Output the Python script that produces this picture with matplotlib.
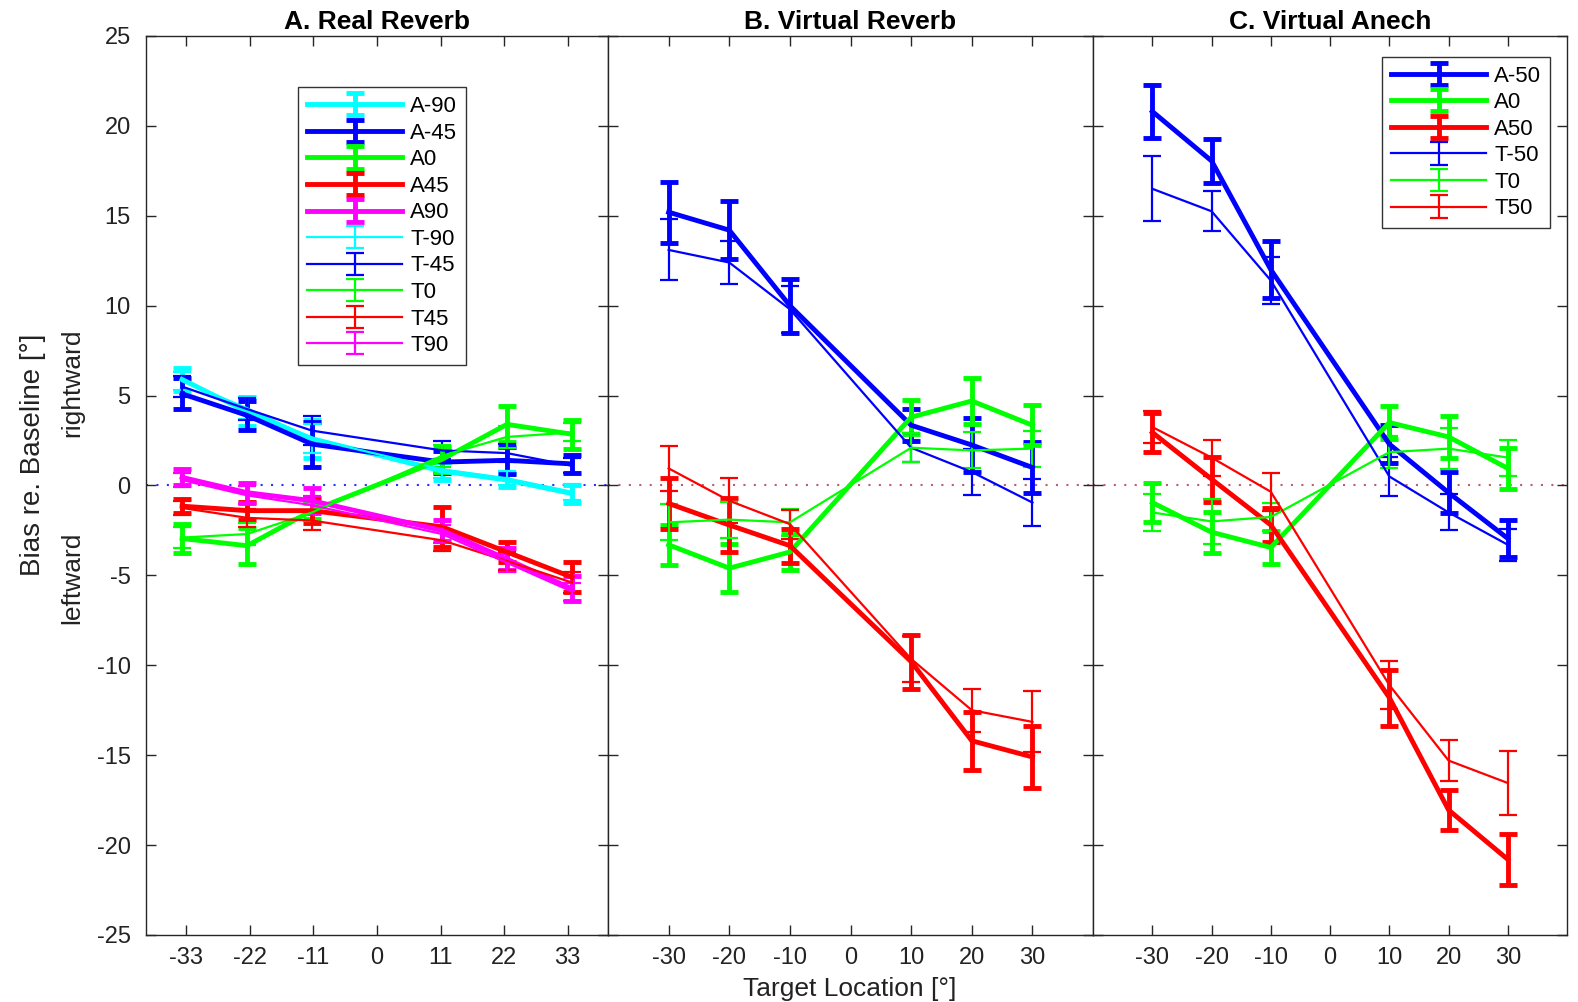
# Bias re. baseline: A. Real Reverb / B. Virtual Reverb / C. Virtual Anech
import numpy as np
import matplotlib.pyplot as plt

plt.rcParams['font.family'] = ['Liberation Sans', 'DejaVu Sans']
plt.rcParams['axes.unicode_minus'] = False

# Target locations (deg)
targets_a = [-33.75, -22.5, -11.25, 11.25, 22.5, 33.75]
xticks_a = [-33, -22, -11, 0, 11, 22, 33]
targets_bc = [-30, -20, -10, 10, 20, 30]
xticks_bc = [-30, -20, -10, 0, 10, 20, 30]
yticks = [-25, -20, -15, -10, -5, 0, 5, 10, 15, 20, 25]

# A. Real Reverb: means and error bars
ra_am90 = [5.9, 4.1, 2.6, 0.8, 0.3, -0.45]
ra_am90_err = [0.65, 0.8, 1.05, 0.5, 0.4, 0.5]
ra_am45 = [5.1, 3.9, 2.3, 1.3, 1.4, 1.2]
ra_am45_err = [0.85, 0.8, 1.25, 0.6, 0.75, 0.5]
ra_a0 = [-2.95, -3.35, -1.4, 1.45, 3.4, 2.85]
ra_a0_err = [0.8, 1.0, 0.45, 0.7, 1.0, 0.8]
ra_a45 = [-1.15, -1.4, -1.4, -2.3, -3.7, -5.1]
ra_a45_err = [0.4, 0.5, 0.7, 1.1, 0.55, 0.85]
ra_a90 = [0.45, -0.4, -0.85, -2.5, -4.1, -5.75]
ra_a90_err = [0.45, 0.55, 0.7, 0.6, 0.6, 0.7]
ra_tm90 = [5.8, 4.3, 2.6, 0.9, 0.4, -0.35]
ra_tm90_err = [0.5, 0.6, 0.8, 0.5, 0.4, 0.45]
ra_tm45 = [5.5, 4.25, 3.05, 1.95, 1.8, 1.1]
ra_tm45_err = [0.6, 0.6, 0.8, 0.5, 0.5, 0.4]
ra_t0 = [-2.9, -2.7, -1.5, 1.65, 2.7, 2.95]
ra_t0_err = [0.6, 0.6, 0.5, 0.6, 0.6, 0.5]
ra_t45 = [-1.25, -1.8, -1.95, -3.05, -4.2, -5.4]
ra_t45_err = [0.4, 0.5, 0.5, 0.6, 0.5, 0.6]
ra_t90 = [0.3, -0.55, -1.1, -2.7, -4.3, -5.9]
ra_t90_err = [0.4, 0.5, 0.5, 0.5, 0.5, 0.5]

# B. Virtual Reverb
vr_am50 = [15.2, 14.2, 10.0, 3.35, 2.25, 1.0]
vr_am50_err = [1.7, 1.6, 1.5, 0.9, 1.5, 1.4]
vr_a0 = [-3.3, -4.6, -3.7, 3.8, 4.7, 3.35]
vr_a0_err = [1.1, 1.35, 1.0, 0.95, 1.3, 1.1]
vr_a50 = [-1.0, -2.2, -3.35, -9.8, -14.2, -15.1]
vr_a50_err = [1.4, 1.5, 0.95, 1.5, 1.6, 1.7]
vr_tm50 = [13.1, 12.4, 9.8, 2.1, 0.75, -0.95]
vr_tm50_err = [1.7, 1.2, 1.3, 0.8, 1.3, 1.3]
vr_t0 = [-2.05, -1.9, -2.05, 2.1, 1.95, 2.05]
vr_t0_err = [1.0, 1.0, 0.75, 0.8, 1.0, 1.0]
vr_t50 = [0.95, -0.85, -2.15, -9.65, -12.5, -13.15]
vr_t50_err = [1.25, 1.25, 0.8, 1.3, 1.2, 1.7]

# C. Virtual Anech
va_am50 = [20.8, 18.05, 12.0, 2.3, -0.4, -2.95]
va_am50_err = [1.45, 1.2, 1.6, 1.05, 1.15, 1.05]
va_a0 = [-0.95, -2.6, -3.45, 3.5, 2.7, 0.95]
va_a0_err = [1.1, 1.15, 0.9, 0.9, 1.15, 1.15]
va_a50 = [2.95, 0.35, -2.2, -11.8, -18.05, -20.8]
va_a50_err = [1.1, 1.25, 0.95, 1.55, 1.1, 1.4]
va_tm50 = [16.5, 15.25, 11.4, 0.5, -1.5, -3.3]
va_tm50_err = [1.8, 1.1, 1.3, 1.1, 1.0, 0.9]
va_t0 = [-1.5, -2.0, -1.75, 1.85, 2.05, 1.55]
va_t0_err = [1.05, 1.25, 0.8, 0.9, 1.15, 1.0]
va_t50 = [3.25, 1.55, -0.35, -11.1, -15.3, -16.55]
va_t50_err = [0.9, 1.0, 1.05, 1.35, 1.15, 1.8]

CYAN, BLUE, GREEN, RED, MAGENTA = '#00ffff', '#0000ff', '#00ff00', '#ff0000', '#ff00ff'
AXCOL = '#262626'


def draw(ax, x, mean, err, color, thick, label):
    lw = 3.5 if thick else 1.6
    ax.errorbar(x, mean, yerr=err, color=color, lw=lw, elinewidth=lw,
                capsize=6.8, capthick=lw, label=label)


fig = plt.figure(figsize=(15.78, 10.02), dpi=100)
axA = fig.add_axes([0.0925, 0.0669, 0.2928, 0.8972])
axB = fig.add_axes([0.3853, 0.0669, 0.3074, 0.8972])
axC = fig.add_axes([0.6927, 0.0669, 0.3004, 0.8972])

# zero lines
axA.axhline(0, color='#3030ff', lw=1.5, ls=(0, (1, 4)), zorder=1)
axB.axhline(0, color='#b8606e', lw=1.5, ls=(0, (1, 4)), zorder=1)
axC.axhline(0, color='#b8606e', lw=1.5, ls=(0, (1, 4)), zorder=1)

# Panel A
draw(axA, targets_a, ra_am90, ra_am90_err, CYAN, True, 'A-90')
draw(axA, targets_a, ra_am45, ra_am45_err, BLUE, True, 'A-45')
draw(axA, targets_a, ra_a0, ra_a0_err, GREEN, True, 'A0')
draw(axA, targets_a, ra_a45, ra_a45_err, RED, True, 'A45')
draw(axA, targets_a, ra_a90, ra_a90_err, MAGENTA, True, 'A90')
draw(axA, targets_a, ra_tm90, ra_tm90_err, CYAN, False, 'T-90')
draw(axA, targets_a, ra_tm45, ra_tm45_err, BLUE, False, 'T-45')
draw(axA, targets_a, ra_t0, ra_t0_err, GREEN, False, 'T0')
draw(axA, targets_a, ra_t45, ra_t45_err, RED, False, 'T45')
draw(axA, targets_a, ra_t90, ra_t90_err, MAGENTA, False, 'T90')

# Panel B
draw(axB, targets_bc, vr_am50, vr_am50_err, BLUE, True, 'A-50')
draw(axB, targets_bc, vr_a0, vr_a0_err, GREEN, True, 'A0')
draw(axB, targets_bc, vr_a50, vr_a50_err, RED, True, 'A50')
draw(axB, targets_bc, vr_tm50, vr_tm50_err, BLUE, False, 'T-50')
draw(axB, targets_bc, vr_t0, vr_t0_err, GREEN, False, 'T0')
draw(axB, targets_bc, vr_t50, vr_t50_err, RED, False, 'T50')

# Panel C
draw(axC, targets_bc, va_am50, va_am50_err, BLUE, True, 'A-50')
draw(axC, targets_bc, va_a0, va_a0_err, GREEN, True, 'A0')
draw(axC, targets_bc, va_a50, va_a50_err, RED, True, 'A50')
draw(axC, targets_bc, va_tm50, va_tm50_err, BLUE, False, 'T-50')
draw(axC, targets_bc, va_t0, va_t0_err, GREEN, False, 'T0')
draw(axC, targets_bc, va_t50, va_t50_err, RED, False, 'T50')

titles = ['A. Real Reverb', 'B. Virtual Reverb', 'C. Virtual Anech']
for ax, title in zip([axA, axB, axC], titles):
    ax.set_xlim(-40, 40)
    ax.set_ylim(-25, 25)
    ax.set_yticks(yticks)
    ax.tick_params(direction='in', top=True, right=True, length=7, width=1,
                   color=AXCOL, labelsize=17, labelcolor='#222222')
    ax.tick_params(axis='x', pad=9)
    ax.tick_params(axis='y', pad=11)
    for sp in ax.spines.values():
        sp.set_color(AXCOL)
        sp.set_linewidth(1.0)
    ax.set_title(title, fontsize=19, fontweight='bold', pad=5)

axA.set_xticks(xticks_a)
axB.set_xticks(xticks_bc)
axC.set_xticks(xticks_bc)
axB.tick_params(labelleft=False)
axC.tick_params(labelleft=False)

leg_kw = dict(fontsize=16, labelspacing=0.25, handlelength=4.3, handletextpad=0.35,
              borderpad=0.4, borderaxespad=0, fancybox=False, framealpha=1,
              edgecolor='#333333')
legA = axA.legend(loc='upper left', bbox_to_anchor=(0.329, 0.943), **leg_kw)
legC = axC.legend(loc='upper right', bbox_to_anchor=(0.964, 0.977), **leg_kw)
for leg in (legA, legC):
    leg.get_frame().set_linewidth(1.0)

fig.text(850 / 1578, 1 - 989 / 1002, 'Target Location [°]', ha='center', va='center',
         fontsize=19, color='#222222')
fig.text(33 / 1578, 1 - 455 / 1002, 'Bias re. Baseline [°]', rotation=90,
         ha='center', va='center', fontsize=20, color='#222222')
fig.text(72 / 1578, 1 - 383 / 1002, 'rightward', rotation=90,
         ha='center', va='center', fontsize=19, color='#222222')
fig.text(72 / 1578, 1 - 578 / 1002, 'leftward', rotation=90,
         ha='center', va='center', fontsize=19, color='#222222')

plt.savefig('out.png', dpi=100)
